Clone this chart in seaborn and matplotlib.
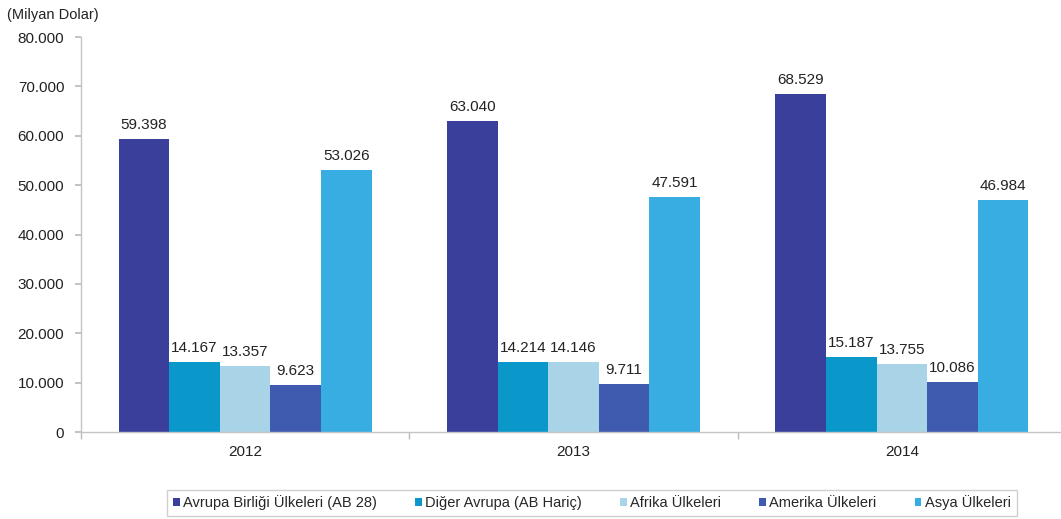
import matplotlib
matplotlib.use("Agg")
import matplotlib.pyplot as plt
import seaborn as sns
import pandas as pd
from matplotlib.ticker import FuncFormatter, FixedLocator

years = ["2012", "2013", "2014"]
regions = ["Avrupa Birliği Ülkeleri (AB 28)", "Diğer Avrupa (AB Hariç)",
           "Afrika Ülkeleri", "Amerika Ülkeleri", "Asya Ülkeleri"]
eu = [59398, 63040, 68529]
other_eu = [14167, 14214, 15187]
africa = [13357, 14146, 13755]
america = [9623, 9711, 10086]
asia = [53026, 47591, 46984]
colors = ["#3b3f9c", "#0a97c9", "#a9d3e6", "#3f5bb0", "#37ade2"]

rows = []
for reg, vals in zip(regions, [eu, other_eu, africa, america, asia]):
    for y, v in zip(years, vals):
        rows.append({"Yıl": y, "Bölge": reg, "Değer": v})
df = pd.DataFrame(rows)

sns.set_theme(style="white")
plt.rcParams["font.family"] = ["Liberation Sans", "DejaVu Sans"]

fig = plt.figure(figsize=(10.61, 5.19), dpi=100)
ax = fig.add_axes([81 / 1061, 0.1676, (1066 - 81) / 1061, 0.7611])
sns.barplot(data=df, x="Yıl", y="Değer", hue="Bölge", order=years,
            hue_order=regions, palette=colors, width=0.77, saturation=1,
            linewidth=0, ax=ax, legend=True, errorbar=None)

def fmt(v):
    return f"{int(round(v)):,}".replace(",", ".")

for cont in ax.containers:
    ax.bar_label(cont, labels=[fmt(b.get_height()) for b in cont],
                 padding=5, fontsize=11, color="#222222")

ax.set_ylim(0, 80000)
ax.set_yticks(range(0, 80001, 10000))
ax.yaxis.set_major_formatter(FuncFormatter(lambda v, p: fmt(v)))
ax.set_xlim(-0.5, 2.5)
ax.set_xlabel("")
ax.set_ylabel("")
ax.tick_params(axis="y", labelsize=11, length=4, color="#bbbbbb", left=True, pad=8,
               labelcolor="#222222")
ax.tick_params(axis="x", labelsize=11, length=0, pad=9, labelcolor="#222222")
ax.xaxis.set_minor_locator(FixedLocator([-0.5, 0.5, 1.5, 2.5]))
ax.tick_params(axis="x", which="minor", length=5, color="#bbbbbb", bottom=True)
for s in ["top", "right"]:
    ax.spines[s].set_visible(False)
for s in ["left", "bottom"]:
    ax.spines[s].set_color("#c4c4c4")
    ax.spines[s].set_linewidth(1)

fig.text(0.007, 0.971, "(Milyan Dolar)", fontsize=10.5, ha="left", va="center", color="#222222")

h, l = ax.get_legend_handles_labels()
ax.get_legend().remove()
leg = fig.legend(h, l, loc="center", bbox_to_anchor=(0.558, 0.031), ncol=5,
                 frameon=True, fontsize=10.5, handlelength=0.45, handleheight=0.45,
                 handletextpad=0.25, columnspacing=2.6, borderpad=0.4,
                 fancybox=False, edgecolor="#c4c4c4")

fig.savefig("out.png", dpi=100, facecolor="white")
